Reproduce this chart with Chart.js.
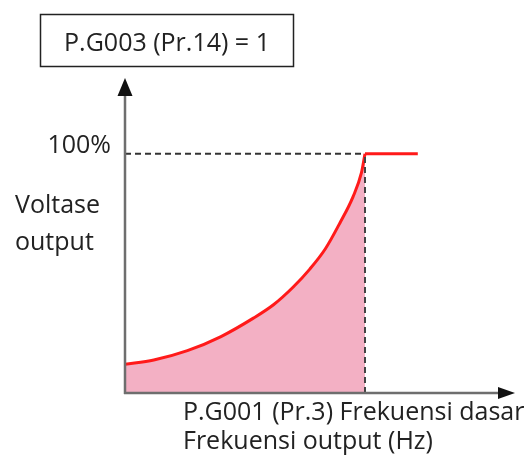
<!DOCTYPE html>
<html>
<head>
<meta charset="utf-8">
<script src="https://cdn.jsdelivr.net/npm/chart.js@4"></script>
<style>
html,body{margin:0;padding:0;background:#fff;}
#wrap{position:relative;width:524px;height:457px;}
</style>
</head>
<body>
<div id="wrap"><canvas id="c" width="524" height="457"></canvas></div>
<script>
// Data (frequency in % of base frequency, voltage in % of output)
const curveFreq    = [0, 12, 26, 40, 53.5, 62, 70, 77, 83.5, 89.5, 95, 98.5, 100];
const curveVoltage = [12, 13.8, 17.7, 23.6, 31.3, 37, 44.2, 51.8, 60.3, 71, 82, 92, 100];
const flatFreq     = [100, 122];
const flatVoltage  = [100, 100];
const baseFreq = 100;
const fullVoltage = 100;
const titleText = 'P.G003 (Pr.14) = 1';
const yTickLabel = '100%';
const yAxisLabel = ['Voltase', 'output'];
const xAxisLabel = ['P.G001 (Pr.3) Frekuensi dasar', 'Frekuensi output (Hz)'];

const FONT = '"Open Sans", "DejaVu Sans", sans-serif';

const toPts = (xs, ys) => xs.map((x, i) => ({x: x, y: ys[i]}));

const decor = {
  id: 'decor',
  afterDatasetsDraw(chart) {
    const ctx = chart.ctx;
    const xs = chart.scales.x, ys = chart.scales.y;
    const x0 = xs.getPixelForValue(0), y0 = ys.getPixelForValue(0);
    const xEnd = xs.right, yEnd = ys.top;
    ctx.save();
    // axes
    ctx.strokeStyle = '#6e6e6e';
    ctx.lineWidth = 2.5;
    ctx.beginPath();
    ctx.moveTo(x0, y0 + 1); ctx.lineTo(x0, yEnd + 14);
    ctx.moveTo(x0 - 1, y0); ctx.lineTo(xEnd - 14, y0);
    ctx.stroke();
    // arrowheads
    ctx.fillStyle = '#111';
    ctx.beginPath();
    ctx.moveTo(x0, yEnd);
    ctx.lineTo(x0 - 7.5, yEnd + 18);
    ctx.lineTo(x0 + 7.5, yEnd + 18);
    ctx.closePath(); ctx.fill();
    ctx.beginPath();
    ctx.moveTo(xEnd, y0);
    ctx.lineTo(xEnd - 17, y0 - 6);
    ctx.lineTo(xEnd - 17, y0 + 6);
    ctx.closePath(); ctx.fill();
    // texts
    ctx.fillStyle = '#222';
    ctx.font = '25px ' + FONT;
    ctx.textBaseline = 'alphabetic';
    ctx.textAlign = 'right';
    const y100 = ys.getPixelForValue(fullVoltage);
    ctx.fillText(yTickLabel, x0 - 14, y100 - 1);
    ctx.textAlign = 'left';
    ctx.fillText(yAxisLabel[0], 15, 213);
    ctx.fillText(yAxisLabel[1], 15, 250);
    ctx.fillText(xAxisLabel[0], 183, y0 + 27);
    ctx.fillText(xAxisLabel[1], 183, y0 + 56);
    // title box
    ctx.strokeStyle = '#222';
    ctx.lineWidth = 1.5;
    ctx.strokeRect(40.5, 14.5, 253, 52);
    ctx.textAlign = 'center';
    ctx.fillText(titleText, 167, 51);
    ctx.restore();
  }
};

new Chart(document.getElementById('c'), {
  type: 'scatter',
  data: {
    datasets: [
      {
        data: toPts([0, baseFreq], [fullVoltage, fullVoltage]),
        showLine: true, borderColor: '#333', borderWidth: 2, borderDash: [6, 4],
        pointRadius: 0, order: 1
      },
      {
        data: toPts([baseFreq, baseFreq], [0, fullVoltage]),
        showLine: true, borderColor: '#444', borderWidth: 2, borderDash: [6, 4],
        pointRadius: 0, order: 2
      },
      {
        data: toPts(curveFreq, curveVoltage),
        showLine: true, borderColor: '#ff1a1a', borderWidth: 3,
        backgroundColor: 'rgb(243,176,196)', fill: 'origin',
        cubicInterpolationMode: 'monotone', pointRadius: 0, order: 3
      },
      {
        data: toPts(flatFreq, flatVoltage),
        showLine: true, borderColor: '#ff1a1a', borderWidth: 3,
        pointRadius: 0, order: 0
      }
    ]
  },
  options: {
    responsive: false,
    animation: false,
    events: [],
    layout: { padding: { left: 125, right: 9, top: 78, bottom: 64 } },
    plugins: { legend: { display: false }, tooltip: { enabled: false } },
    scales: {
      x: { type: 'linear', min: 0, max: 162.5, display: false },
      y: { type: 'linear', min: 0, max: 131.7, display: false }
    }
  },
  plugins: [decor]
});
</script>
</body>
</html>
